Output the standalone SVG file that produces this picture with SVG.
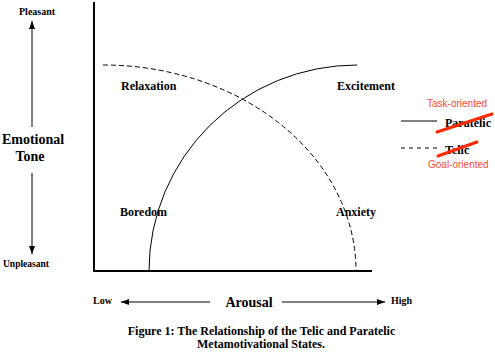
<svg xmlns="http://www.w3.org/2000/svg" width="495" height="359" viewBox="0 0 495 359">
<defs>
<style>
.t{font-family:"Liberation Serif","Times New Roman",serif;font-weight:bold;fill:#000}
.r{font-family:"Liberation Sans",Arial,sans-serif;font-size:10px;fill:#ff4a2e}
.ln{stroke:#000;stroke-width:1;fill:none}
.dash{stroke-dasharray:5,3}
.strike{stroke:#ff2a00;stroke-width:3;stroke-linecap:round}
</style>
<marker id="ah" viewBox="0 0 8 6" refX="8" refY="3" markerWidth="8" markerHeight="6" markerUnits="userSpaceOnUse" orient="auto">
<path d="M0,0 L8,3 L0,6 z" fill="#000"/>
</marker>
</defs>
<rect width="495" height="359" fill="#fff"/>
<g id="axes">
<line x1="94" y1="2" x2="94" y2="272" stroke="#000" stroke-width="2"/>
<line x1="93" y1="271" x2="372" y2="271" stroke="#000" stroke-width="2"/>
</g>
<g id="connectors">
<path id="paratelic-curve" class="ln" d="M149,271 A208,206 0 0 1 357,65"/>
<path id="telic-curve" class="ln dash" d="M103,65 A253,206 0 0 1 356,271"/>
<line class="ln" x1="32" y1="127" x2="32" y2="21" marker-end="url(#ah)"/>
<line class="ln" x1="32" y1="173" x2="32" y2="254" marker-end="url(#ah)"/>
<line class="ln" x1="210" y1="302" x2="121" y2="302" marker-end="url(#ah)"/>
<line class="ln" x1="282" y1="302" x2="385" y2="302" marker-end="url(#ah)"/>
</g>
<g id="left-labels">
<text class="t" x="19" y="15" font-size="10">Pleasant</text>
<text class="t" x="33" y="144" font-size="14" text-anchor="middle">Emotional</text>
<text class="t" x="30" y="161" font-size="14" text-anchor="middle">Tone</text>
<text class="t" x="3" y="267" font-size="9.5">Unpleasant</text>
</g>
<g id="relaxation"><text class="t" x="121" y="90" font-size="12">Relaxation</text></g>
<g id="excitement"><text class="t" x="337" y="90" font-size="12">Excitement</text></g>
<g id="boredom"><text class="t" x="120" y="216" font-size="12">Boredom</text></g>
<g id="anxiety"><text class="t" x="336" y="216" font-size="12">Anxiety</text></g>
<g id="bottom-labels">
<text class="t" x="93" y="304" font-size="10">Low</text>
<text class="t" x="249" y="307" font-size="14" text-anchor="middle">Arousal</text>
<text class="t" x="391" y="304" font-size="10">High</text>
</g>
<g id="legend">
<line class="ln" x1="401" y1="121" x2="437" y2="121"/>
<line class="ln" x1="401" y1="148" x2="437" y2="148" stroke-dasharray="4,4"/>
<text class="r" x="427" y="107">Task-oriented</text>
<text class="t" x="445" y="127" font-size="12">Paratelic</text>
<text class="t" x="445" y="154" font-size="12">Telic</text>
<text class="r" x="428" y="168">Goal-oriented</text>
<line class="strike" x1="437" y1="132" x2="492" y2="114"/>
<line class="strike" x1="438" y1="156" x2="477" y2="142"/>
</g>
<g id="caption">
<text class="t" x="261.5" y="335" font-size="12" text-anchor="middle">Figure 1: The Relationship of the Telic and Paratelic</text>
<text class="t" x="261" y="348" font-size="12" text-anchor="middle">Metamotivational States.</text>
</g>
</svg>
